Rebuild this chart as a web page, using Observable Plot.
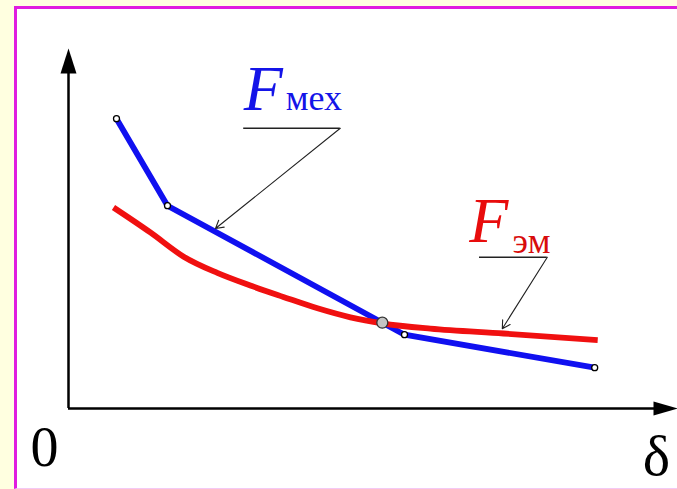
<!DOCTYPE html>
<html><head><meta charset="utf-8">
<script src="https://cdn.jsdelivr.net/npm/d3@7"></script>
<script src="https://cdn.jsdelivr.net/npm/@observablehq/plot@0.6"></script>
<style>
html,body{margin:0;padding:0;}
body{width:677px;height:489px;background:#FFFFE0;position:relative;overflow:hidden;}
#frame{position:absolute;left:14px;top:6px;width:700px;height:479px;background:#fff;border-top:3px solid #E01CE0;border-left:3px solid #E01CE0;border-bottom:1px solid #F4C8F4;}
#chart{position:absolute;left:0;top:0;}
</style></head><body>
<div id="frame"></div><div id="chart"></div>
<script>
// F_мех (mechanical force), broken line through 4 points
const mechX = [0.80, 1.65, 5.60, 8.77];
const mechY = [4.83, 3.38, 1.23, 0.68];
// F_эм (electromagnetic force), smooth curve
const emX = [0.75, 1.37, 1.92, 2.48, 3.03, 3.58, 4.15, 4.70, 5.23, 6.03, 7.25, 8.82];
const emY = [3.35, 2.93, 2.53, 2.26, 2.05, 1.86, 1.67, 1.52, 1.42, 1.33, 1.25, 1.14];
// intersection point
const crossX = [5.23];
const crossY = [1.43];
// axis labels
const axisLabels = ["0", "δ"];
// series labels
const seriesMain = ["F", "F"];
const seriesSub = ["мех", "эм"];

const mech = mechX.map((x, i) => ({x, y: mechY[i]}));
const em = emX.map((x, i) => ({x, y: emY[i]}));
const cross = crossX.map((x, i) => ({x, y: crossY[i]}));

// leader annotations (in data units)
const leaders = [
  {ux1: 2.92, ux2: 4.53, uy: 4.67, ax: 2.45, ay: 3.00},
  {ux1: 6.85, ux2: 7.98, uy: 2.52, ax: 7.23, ay: 1.33}
];
const mainLab = [
  {x: 2.92, y: 4.97, t: seriesMain[0], c: "#1414E8"},
  {x: 6.68, y: 2.77, t: seriesMain[1], c: "#E80C0C"}
];
const subLab = [
  {x: 3.62, y: 4.97, t: seriesSub[0], c: "#1414E8"},
  {x: 7.40, y: 2.60, t: seriesSub[1], c: "#D80C0C"}
];

const upArrow = {draw(ctx) { ctx.moveTo(0, 0); ctx.lineTo(8, 25); ctx.lineTo(-8, 25); ctx.closePath(); }};
const rightArrow = {draw(ctx) { ctx.moveTo(0, 0); ctx.lineTo(-24, 7); ctx.lineTo(-24, -7); ctx.closePath(); }};

const serif = "'Liberation Serif', 'Times New Roman', serif";

const chart = Plot.plot({
  width: 677,
  height: 489,
  marginLeft: 68,
  marginRight: 9,
  marginTop: 48,
  marginBottom: 81,
  style: {background: "transparent", overflow: "visible"},
  x: {domain: [0, 10], axis: null},
  y: {domain: [0, 6], axis: null},
  marks: [
    Plot.ruleX([0], {y1: 0, y2: 5.7, stroke: "black", strokeWidth: 2.5}),
    Plot.ruleY([0], {x1: 0, x2: 9.8, stroke: "black", strokeWidth: 2.5}),
    Plot.dot([{x: 0, y: 6}], {x: "x", y: "y", symbol: upArrow, fill: "black", stroke: "none"}),
    Plot.dot([{x: 10.15, y: 0}], {x: "x", y: "y", symbol: rightArrow, fill: "black", stroke: "none"}),
    Plot.text([{x: -0.4, y: -0.95, t: axisLabels[0]}], {x: "x", y: "y", text: "t", fontFamily: serif, fontSize: 56, lineAnchor: "bottom", fill: "black"}),
    Plot.text([{x: 9.8, y: -1.1, t: axisLabels[1]}], {x: "x", y: "y", text: "t", fontFamily: serif, fontSize: 58, lineAnchor: "bottom", fill: "black"}),
    Plot.line(mech, {x: "x", y: "y", stroke: "#1010F0", strokeWidth: 5.8, strokeLinecap: "butt", strokeLinejoin: "round"}),
    Plot.line(em, {x: "x", y: "y", stroke: "#F01010", strokeWidth: 5.8, curve: "monotone-x", strokeLinecap: "butt"}),
    Plot.dot(mech, {x: "x", y: "y", r: 3, fill: "white", stroke: "black", strokeWidth: 1.3}),
    Plot.dot(cross, {x: "x", y: "y", r: 5.5, fill: "#C4C4C4", stroke: "#333", strokeWidth: 1.3}),
    Plot.ruleY(leaders, {y: "uy", x1: "ux1", x2: "ux2", stroke: "#222", strokeWidth: 1.4}),
    Plot.arrow(leaders, {x1: "ux2", y1: "uy", x2: "ax", y2: "ay", stroke: "#222", strokeWidth: 1.1, headLength: 12, bend: 0}),
    Plot.text(mainLab, {x: "x", y: "y", text: "t", fill: "c", fontFamily: serif, fontStyle: "italic", fontSize: 64, textAnchor: "start", lineAnchor: "bottom"}),
    Plot.text(subLab, {x: "x", y: "y", text: "t", fill: "c", fontFamily: serif, fontSize: 36, textAnchor: "start", lineAnchor: "bottom"})
  ]
});
document.getElementById("chart").appendChild(chart);
</script>
</body></html>
